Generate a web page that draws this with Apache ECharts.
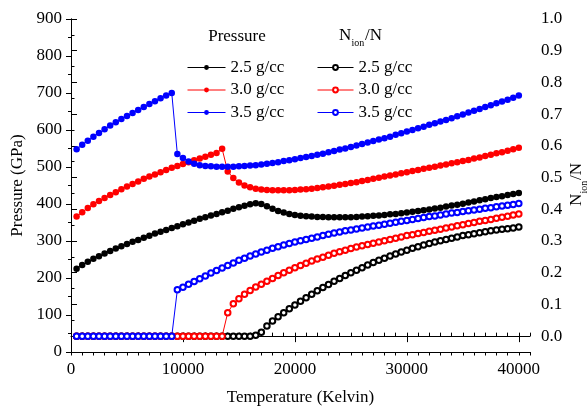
<!DOCTYPE html>
<html><head><meta charset="utf-8">
<script src="https://cdn.jsdelivr.net/npm/echarts@6/dist/echarts.min.js"></script>
<style>html,body{margin:0;padding:0;background:#fff}#c{width:588px;height:411px}</style>
</head><body><div id="c"></div>
<script>
const temperature = [500,1000,1500,2000,2500,3000,3500,4000,4500,5000,5500,6000,6500,7000,7500,8000,8500,9000,9500,10000,
10500,11000,11500,12000,12500,13000,13500,14000,14500,15000,15500,16000,16500,17000,17500,18000,18500,19000,19500,20000,
20500,21000,21500,22000,22500,23000,23500,24000,24500,25000,25500,26000,26500,27000,27500,28000,28500,29000,29500,30000,
30500,31000,31500,32000,32500,33000,33500,34000,34500,35000,35500,36000,36500,37000,37500,38000,38500,39000,39500,40000];

const pressure25 = [225,235,244,252,259,266,273,280,286,292,298,303,309,314,320,325,330,335,340,345,
350,355,360,364,369,373,378,382,387,391,395,399,402,400,394,387,381,377,373,370,
368,367,366,365,365,364,364,364,364,364,365,366,367,368,369,370,372,373,375,377,
379,381,383,385,388,390,393,396,398,401,404,407,410,413,416,419,421,424,427,430];

const pressure30 = [366,378,389,399,408,416,424,432,440,447,454,461,468,474,480,486,492,498,503,508,
513,518,523,528,533,538,549,488,470,458,450,445,441,439,438,437,437,437,437,438,
439,440,441,443,445,447,449,452,454,457,459,462,465,468,471,474,477,480,483,486,
489,492,495,498,501,504,507,510,513,516,519,523,526,530,533,537,540,544,548,552];

const pressure35 = [548,560,571,582,592,602,612,621,630,638,646,654,662,670,678,686,693,700,535,524,
515,509,505,503,502,501,501,501,501,502,503,504,505,507,509,511,513,516,518,521,
524,527,530,533,536,540,543,547,550,554,558,562,566,570,574,578,582,587,591,596,
600,605,609,614,618,623,627,632,637,642,647,652,657,662,667,672,677,682,687,693];

const nion25 = [0,0,0,0,0,0,0,0,0,0,0,0,0,0,0,0,0,0,0,0,
0,0,0,0,0,0,0,0,0,0,0,0,0.003,0.012,0.032,0.048,0.061,0.074,0.086,0.098,
0.110,0.121,0.132,0.143,0.153,0.163,0.173,0.182,0.191,0.200,0.208,0.216,0.224,0.232,0.239,0.246,0.253,0.259,0.265,0.271,
0.277,0.282,0.287,0.292,0.297,0.301,0.305,0.309,0.313,0.317,0.320,0.323,0.326,0.329,0.332,0.335,0.337,0.339,0.341,0.344];

const nion30 = [0,0,0,0,0,0,0,0,0,0,0,0,0,0,0,0,0,0,0,0,
0,0,0,0,0,0,0,0.074,0.102,0.118,0.132,0.144,0.155,0.164,0.173,0.182,0.191,0.200,0.208,0.216,
0.223,0.230,0.237,0.243,0.249,0.255,0.261,0.266,0.271,0.276,0.281,0.285,0.289,0.293,0.297,0.301,0.305,0.309,0.313,0.317,
0.320,0.324,0.327,0.331,0.334,0.337,0.341,0.344,0.348,0.351,0.355,0.358,0.362,0.365,0.368,0.372,0.375,0.378,0.382,0.385];

const nion35 = [0,0,0,0,0,0,0,0,0,0,0,0,0,0,0,0,0,0,0.146,0.154,
0.164,0.172,0.181,0.190,0.199,0.207,0.215,0.223,0.231,0.239,0.246,0.253,0.259,0.265,0.271,0.277,0.282,0.287,0.292,0.297,
0.301,0.305,0.309,0.313,0.317,0.321,0.325,0.328,0.332,0.335,0.338,0.341,0.344,0.347,0.350,0.353,0.356,0.359,0.362,0.365,
0.368,0.371,0.374,0.377,0.379,0.382,0.385,0.388,0.390,0.393,0.395,0.398,0.400,0.403,0.405,0.408,0.410,0.413,0.415,0.418];

const densityLabels = ['2.5 g/cc','3.0 g/cc','3.5 g/cc'];
const colors = ['#000000','#ff0000','#0000ff'];
const pressureTicks = [0,100,200,300,400,500,600,700,800,900];
const nionTicks = [0,0.1,0.2,0.3,0.4,0.5,0.6,0.7,0.8,0.9,1.0];
const tempTicks = [0,10000,20000,30000,40000];

const FONT = 'Liberation Serif';
const pairs = vals => temperature.map((t,i)=>[t, vals[i]]);
const pSeries = [pressure25, pressure30, pressure35];
const nSeries = [nion25, nion30, nion35];

const series = [];
pSeries.forEach((vals,i)=>series.push({
  name:'P '+densityLabels[i], type:'line', xAxisIndex:0, yAxisIndex:0, data:pairs(vals),
  symbol:'circle', symbolSize:6.5, lineStyle:{width:1,color:colors[i]}, itemStyle:{color:colors[i]},
  emphasis:{disabled:true}, z:3
}));
nSeries.forEach((vals,i)=>series.push({
  name:'N '+densityLabels[i], type:'line', xAxisIndex:0, yAxisIndex:1, data:pairs(vals),
  symbol:'emptyCircle', symbolSize:5.5, lineStyle:{width:1,color:colors[i]}, itemStyle:{color:colors[i], borderWidth:1},
  emphasis:{disabled:true}, z:3
}));

const axisLine = {show:true, lineStyle:{color:'#000', width:1}};
const labelStyle = {fontFamily:FONT, fontSize:17, color:'#000'};
const nameStyle = {fontFamily:FONT, fontSize:17, color:'#000'};
const stripName = n => n.slice(2);
const legendBase = {top:59, orient:'vertical', itemHeight:6, itemGap:5.5, padding:0, selectedMode:false,
  formatter:stripName, lineStyle:{width:1}, itemStyle:{borderWidth:1},
  textStyle:{fontFamily:FONT, fontSize:17, color:'#000', lineHeight:17}};

const option = {
  animation:false,
  backgroundColor:'#fff',
  grid:{left:71, right:58, top:19, bottom:56, containLabel:false},
  xAxis:[
    {type:'value', position:'bottom', min:0, max:41000, interval:1000,
     axisLine, axisTick:{show:true, length:3.5, lineStyle:{color:'#000'}},
     axisLabel:{...labelStyle, margin:9, formatter:v=> (tempTicks.indexOf(v)>=0 ? String(v) : '')},
     splitLine:{show:false},
     name:'Temperature (Kelvin)', nameLocation:'middle', nameGap:37, nameTextStyle:nameStyle},
    {type:'value', position:'bottom', min:0, max:41000,
     axisLine:{show:false}, axisTick:{show:true, length:6, customValues:tempTicks, lineStyle:{color:'#000'}},
     axisLabel:{show:false, customValues:tempTicks}, splitLine:{show:false}},
    {type:'value', position:'top', min:0, max:41000, interval:1000,
     axisLine, axisTick:{show:true, length:3.5, lineStyle:{color:'#000'}},
     axisLabel:{show:false}, splitLine:{show:false}}
  ],
  yAxis:[
    {type:'value', position:'left', min:0, max:900, interval:100,
     axisLine, axisTick:{show:true, length:5, lineStyle:{color:'#000'}},
     minorTick:{show:true, splitNumber:2, length:3, lineStyle:{color:'#000'}},
     axisLabel:{...labelStyle, margin:9}, splitLine:{show:false}, minorSplitLine:{show:false},
     name:'Pressure (GPa)', nameLocation:'middle', nameGap:42, nameRotate:90, nameTextStyle:nameStyle},
    {type:'value', position:'right', min:-0.05, max:1.0,
     axisLine, axisTick:{show:true, length:6, customValues:nionTicks, lineStyle:{color:'#000'}},
     axisLabel:{...labelStyle, margin:11, customValues:nionTicks, formatter:v=>v.toFixed(1)},
     splitLine:{show:false}},
    {type:'value', position:'right', min:-0.05, max:1.0, interval:0.05,
     axisLine:{show:false}, axisTick:{show:true, length:3.5, lineStyle:{color:'#000'}},
     axisLabel:{show:false}, splitLine:{show:false}}
  ],
  legend:[
    {...legendBase, data:densityLabels.map(d=>'P '+d), left:187, itemWidth:38},
    {...legendBase, data:densityLabels.map(d=>'N '+d), left:317, itemWidth:36}
  ],
  graphic:[
    {type:'text', x:237, y:37, style:{text:'Pressure', fontFamily:FONT, fontSize:17, fill:'#000', align:'center', verticalAlign:'middle'}},
    {type:'group', x:339, y:36, children:[
      {type:'text', x:0, y:0, style:{text:'N', fontFamily:FONT, fontSize:17, fill:'#000', align:'left', verticalAlign:'middle'}},
      {type:'text', x:12.5, y:7.5, style:{text:'ion', fontFamily:FONT, fontSize:10, fill:'#000', align:'left', verticalAlign:'middle'}},
      {type:'text', x:26, y:0, style:{text:'/N', fontFamily:FONT, fontSize:17, fill:'#000', align:'left', verticalAlign:'middle'}}
    ]},
    {type:'group', x:577, y:186, rotation:Math.PI/2, children:[
      {type:'text', x:-20, y:0, style:{text:'N', fontFamily:FONT, fontSize:17, fill:'#000', align:'left', verticalAlign:'middle'}},
      {type:'text', x:-7.5, y:7.5, style:{text:'ion', fontFamily:FONT, fontSize:10, fill:'#000', align:'left', verticalAlign:'middle'}},
      {type:'text', x:6, y:0, style:{text:'/N', fontFamily:FONT, fontSize:17, fill:'#000', align:'left', verticalAlign:'middle'}}
    ]}
  ],
  series
};
const chart = echarts.init(document.getElementById('c'), null, {renderer:'canvas'});
chart.setOption(option);
</script></body></html>
